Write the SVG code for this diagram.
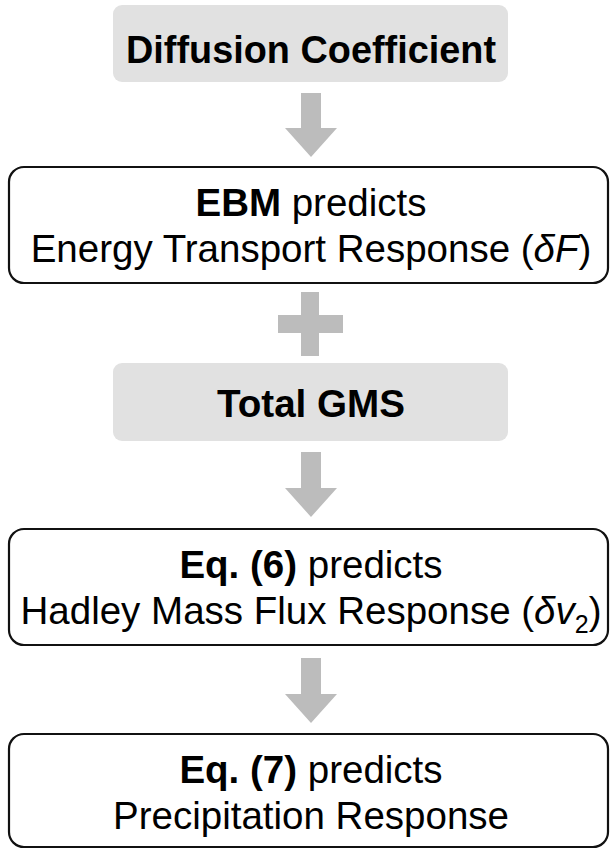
<svg xmlns="http://www.w3.org/2000/svg" width="612" height="849" viewBox="0 0 612 849">
<style>
.gbox{fill:#e1e1e1;stroke:none}
.wbox{fill:#ffffff;stroke:#111111;stroke-width:2.2}
.arr{fill:#bcbcbc;stroke:none}
text{font-family:"Liberation Sans",Arial,sans-serif;fill:#000;text-anchor:middle;font-size:38.5px}
.b{font-weight:bold}
.i{font-style:italic}
</style>
<rect width="612" height="849" fill="#ffffff"/>
<g id="connectors">
<path class="arr" d="M301,93 H321 V128 H337 L311,157 L285,128 H301 Z"/>
<path class="arr" d="M301,292 H319 V315 H343 V333 H319 V356 H301 V333 H278 V315 H301 Z"/>
<path class="arr" d="M301,452 H321 V488 H337 L311,517 L285,488 H301 Z"/>
<path class="arr" d="M301,658 H321 V694 H337 L311,723 L285,694 H301 Z"/>
</g>
<g id="diffusion">
<rect class="gbox" x="113" y="5" width="395" height="77" rx="9"/>
<text class="b" x="311" y="63" font-size="41" textLength="370" lengthAdjust="spacingAndGlyphs">Diffusion Coefficient</text>
</g>
<g id="ebm">
<rect class="wbox" x="9" y="167" width="599" height="116" rx="15"/>
<text x="311" y="216"><tspan class="b">EBM</tspan> predicts</text>
<text x="311" y="262">Energy Transport Response (<tspan class="i">δF</tspan>)</text>
</g>
<g id="gms">
<rect class="gbox" x="113" y="363" width="395" height="78" rx="9"/>
<text class="b" x="311" y="417" font-size="41" textLength="188" lengthAdjust="spacingAndGlyphs">Total GMS</text>
</g>
<g id="hadley">
<rect class="wbox" x="9" y="529" width="599" height="116" rx="15"/>
<text x="311" y="578"><tspan class="b">Eq. (6)</tspan> predicts</text>
<text x="311" y="624">Hadley Mass Flux Response (<tspan class="i">δv</tspan><tspan font-size="25" dy="9">2</tspan><tspan dy="-9">)</tspan></text>
</g>
<g id="precip">
<rect class="wbox" x="9" y="734" width="599" height="113" rx="15"/>
<text x="311" y="783"><tspan class="b">Eq. (7)</tspan> predicts</text>
<text x="311" y="829">Precipitation Response</text>
</g>
</svg>
